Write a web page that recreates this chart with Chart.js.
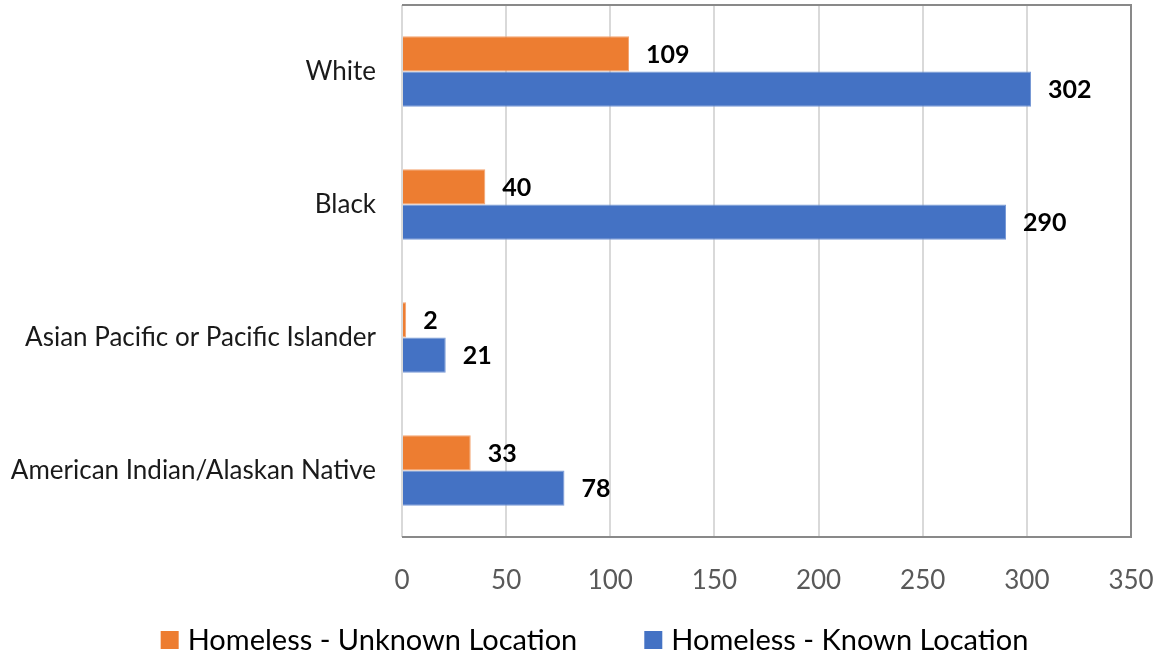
<!DOCTYPE html>
<html>
<head>
<meta charset="utf-8">
<script src="https://cdn.jsdelivr.net/npm/chart.js@4/dist/chart.umd.min.js"></script>
<style>
  html, body { margin: 0; padding: 0; background: #fff; }
  #wrap { width: 1163px; height: 664px; }
</style>
</head>
<body>
<div id="wrap"><canvas id="c"></canvas></div>
<script>
const categories = ['White', 'Black', 'Asian Pacific or Pacific Islander', 'American Indian/Alaskan Native'];
const unknownLocation = [109, 40, 2, 33];
const knownLocation = [302, 290, 21, 78];
const xTicks = [0, 50, 100, 150, 200, 250, 300, 350];

const FONT = 'Lato, "Open Sans", sans-serif';

// value labels at the end of each bar
const barLabels = {
  id: 'barLabels',
  afterDatasetsDraw(chart) {
    const ctx = chart.ctx;
    ctx.save();
    ctx.font = 'bold 25px ' + FONT;
    ctx.fillStyle = '#000';
    ctx.textAlign = 'left';
    ctx.textBaseline = 'middle';
    chart.data.datasets.forEach((ds, i) => {
      chart.getDatasetMeta(i).data.forEach((bar, j) => {
        ctx.fillText(String(ds.data[j]), bar.x + 17, bar.y + 1);
      });
    });
    ctx.restore();
  }
};

// dark frame on top, right and bottom of plot area
const plotFrame = {
  id: 'plotFrame',
  afterDraw(chart) {
    const { ctx, chartArea: a } = chart;
    ctx.save();
    ctx.strokeStyle = '#898989';
    ctx.lineWidth = 2;
    ctx.beginPath();
    ctx.moveTo(a.left, a.top);
    ctx.lineTo(a.right, a.top);
    ctx.lineTo(a.right, a.bottom);
    ctx.lineTo(a.left, a.bottom);
    ctx.stroke();
    ctx.restore();
  }
};

// bottom legend with wider gap between the two entries
const bottomLegend = {
  id: 'bottomLegend',
  afterDraw(chart) {
    const ctx = chart.ctx;
    const box = 18, textGap = 9, itemGap = 67;
    const y = chart.height - 24;
    ctx.save();
    ctx.font = '29px ' + FONT;
    ctx.textBaseline = 'middle';
    ctx.textAlign = 'left';
    const items = chart.data.datasets.map(ds => ({
      text: ds.label,
      color: ds.backgroundColor,
      w: ctx.measureText(ds.label).width
    }));
    const total = items.reduce((s, it) => s + box + textGap + it.w, 0) + itemGap * (items.length - 1);
    let x = chart.width / 2 + 13 - total / 2;
    items.forEach(it => {
      ctx.fillStyle = it.color;
      ctx.fillRect(x, y - box / 2, box, box);
      x += box + textGap;
      ctx.fillStyle = '#000';
      ctx.fillText(it.text, x, y + 1);
      x += it.w + itemGap;
    });
    ctx.restore();
  }
};

new Chart(document.getElementById('c'), {
  type: 'bar',
  data: {
    labels: categories,
    datasets: [
      {
        label: 'Homeless - Unknown Location',
        data: unknownLocation,
        backgroundColor: '#ED7D31',
        borderColor: '#F4A572',
        borderWidth: 1,
        categoryPercentage: 0.53,
        barPercentage: 1
      },
      {
        label: 'Homeless - Known Location',
        data: knownLocation,
        backgroundColor: '#4472C4',
        borderColor: '#7A9BD6',
        borderWidth: 1,
        categoryPercentage: 0.53,
        barPercentage: 1
      }
    ]
  },
  options: {
    indexAxis: 'y',
    responsive: true,
    maintainAspectRatio: false,
    animation: false,
    layout: { padding: { top: 5, right: 32, bottom: 68, left: 0 } },
    scales: {
      x: {
        min: 0,
        max: 350,
        afterBuildTicks(scale) {
          scale.ticks = xTicks.map(v => ({ value: v }));
        },
        afterFit(scale) {
          scale.height = 59;
          scale.paddingLeft = 0;
          scale.paddingRight = 0;
        },
        grid: { color: '#D9D9D9', lineWidth: 2, drawTicks: false },
        border: { display: false },
        ticks: {
          color: '#595959',
          font: { family: FONT, size: 26 },
          padding: 28
        }
      },
      y: {
        afterFit(scale) {
          scale.width = 402;
          scale.paddingTop = 0;
          scale.paddingBottom = 0;
        },
        grid: { display: false, drawTicks: false },
        border: { display: false },
        ticks: {
          color: '#1a1a1a',
          font: { family: FONT, size: 26 },
          padding: 26
        }
      }
    },
    plugins: {
      legend: { display: false },
      tooltip: { enabled: false }
    }
  },
  plugins: [barLabels, plotFrame, bottomLegend]
});
</script>
</body>
</html>
